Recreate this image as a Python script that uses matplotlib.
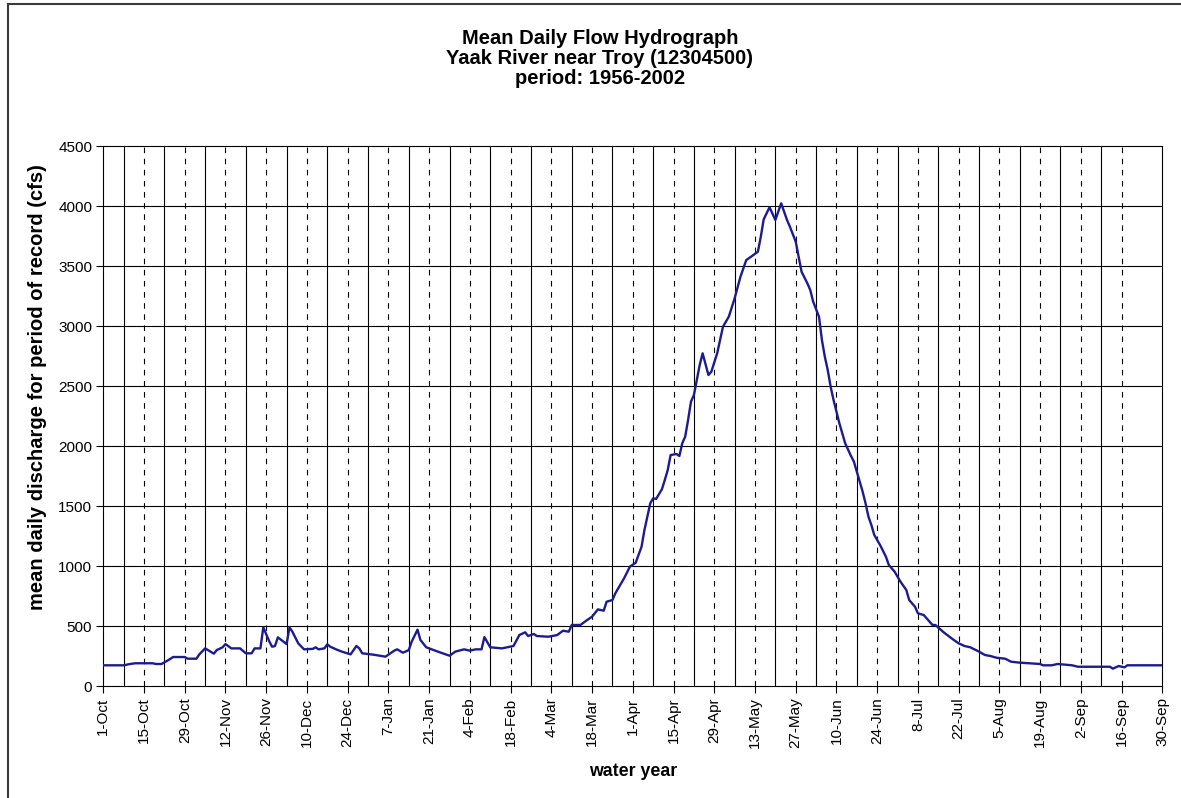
import matplotlib
matplotlib.use("Agg")
import matplotlib.pyplot as plt
from matplotlib.lines import Line2D

plt.rcParams['font.family'] = ['Liberation Sans', 'DejaVu Sans']

# day offset from 1-Oct (water year day) and mean daily discharge (cfs)
days = [0, 7, 9, 11, 17, 18, 20, 22, 24, 28, 29, 32, 33, 35, 38, 39, 41, 42, 44, 47,
        49, 51, 52, 54, 55, 57, 58, 59, 60, 63, 64, 65, 67, 69, 72, 73, 74, 76, 77, 78,
        80, 82, 85, 87, 88, 89, 93, 97, 100, 101, 103, 105, 106, 108, 109, 111, 115, 119, 121, 124,
        126, 128, 130, 131, 133, 137, 141, 143, 145, 146, 148, 149, 153, 156, 158, 160, 161, 164, 166, 168,
        170, 172, 173, 175, 176, 179, 181, 183, 185, 186, 187, 188, 189, 190, 192, 193, 194, 195, 197, 198,
        199, 200, 201, 202, 203, 205, 206, 208, 209, 211, 213, 215, 217, 219, 221, 223, 225, 226, 227, 228,
        229, 231, 233, 235, 236, 238, 239, 240, 242, 243, 244, 246, 247, 248, 249, 250, 251, 253, 254, 255,
        257, 258, 259, 261, 262, 263, 264, 265, 267, 269, 270, 272, 274, 276, 277, 279, 280, 282, 285, 286,
        289, 292, 294, 296, 298, 301, 303, 305, 307, 310, 312, 315, 322, 323, 326, 328, 333, 335, 346, 347,
        349, 351, 352, 364]
flow = [175, 175, 185, 192, 192, 186, 186, 213, 244, 244, 230, 230, 266, 316, 272, 302, 325, 352, 316, 316,
        275, 275, 316, 316, 491, 377, 330, 335, 408, 352, 491, 455, 358, 308, 312, 325, 308, 316, 350, 330,
        308, 289, 266, 336, 316, 275, 263, 247, 297, 308, 280, 302, 372, 472, 386, 325, 289, 255, 289, 308,
        297, 308, 308, 410, 325, 316, 336, 427, 450, 419, 436, 419, 413, 427, 463, 455, 511, 511, 547, 580,
        641, 630, 705, 719, 775, 900, 997, 1030, 1163, 1302, 1413, 1525, 1567, 1561, 1642, 1719, 1802, 1927, 1936, 1919,
        2025, 2080, 2219, 2372, 2427, 2678, 2775, 2594, 2622, 2775, 2997, 3080, 3233, 3413, 3552, 3586, 3622, 3747, 3892, 3942,
        3992, 3886, 4025, 3886, 3830, 3705, 3580, 3455, 3358, 3302, 3205, 3080, 2886, 2747, 2636, 2497, 2386, 2192, 2108, 2025,
        1919, 1872, 1788, 1622, 1525, 1413, 1344, 1261, 1177, 1080, 1011, 955, 872, 803, 719, 663, 608, 594, 511, 511,
        447, 392, 358, 336, 325, 289, 261, 252, 238, 230, 205, 197, 186, 175, 175, 186, 175, 163, 163, 147,
        169, 158, 175, 175]

tick_labels = ['1-Oct', '15-Oct', '29-Oct', '12-Nov', '26-Nov', '10-Dec', '24-Dec', '7-Jan',
               '21-Jan', '4-Feb', '18-Feb', '4-Mar', '18-Mar', '1-Apr', '15-Apr', '29-Apr',
               '13-May', '27-May', '10-Jun', '24-Jun', '8-Jul', '22-Jul', '5-Aug', '19-Aug',
               '2-Sep', '16-Sep', '30-Sep']
title_lines = ['Mean Daily Flow Hydrograph', 'Yaak River near Troy (12304500)', 'period: 1956-2002']

W, H = 1181, 798
fig = plt.figure(figsize=(W / 100, H / 100), dpi=100)
ax = fig.add_axes([103.3 / W, 1 - 686.3 / H, (1162.3 - 103.3) / W, (686.3 - 146.3) / H])

tick_pos = [14 * i for i in range(len(tick_labels))]
ax.set_xlim(0, 364)
ax.set_ylim(0, 4500)

# gridlines: horizontal solid, vertical dashed at labelled days, solid midway
for yv in range(500, 4500, 500):
    ax.axhline(yv, color='black', lw=0.8, zorder=1)
for xv in tick_pos[1:-1]:
    ax.axvline(xv, color='black', lw=0.8, linestyle=(0, (5, 5)), zorder=1)
for xv in tick_pos[:-2]:
    ax.axvline(xv + 7, color='black', lw=0.8, zorder=1)

ax.plot(days, flow, color='#1c1c8f', lw=1.7, zorder=3, solid_joinstyle='round')

ax.set_xticks(tick_pos)
ax.set_xticklabels(tick_labels, rotation=90, fontsize=11)
ax.set_yticks(range(0, 4501, 500))
ax.set_yticklabels([str(v) for v in range(0, 4501, 500)], fontsize=11)
ax.tick_params(direction='out', length=5, width=0.8, color='black', pad=3)
for s in ax.spines.values():
    s.set_color('black')
    s.set_linewidth(0.8)

ax.set_ylabel('mean daily discharge for period of record (cfs)', fontsize=14.5, fontweight='bold')
ax.yaxis.set_label_coords((38 - 103.3) / (1162.3 - 103.3), (686.3 - 387) / (686.3 - 146.3))
ax.set_xlabel('water year', fontsize=12.8, fontweight='bold')
ax.xaxis.set_label_coords(0.5, -(771 - 686.3) / (686.3 - 146.3))
ax.xaxis.label.set_va('center')
ax.yaxis.label.set_va('center')

title_y = [39, 58.5, 78]
for line, ty in zip(title_lines, title_y):
    fig.text(600 / W, 1 - ty / H, line, ha='center', va='center',
             fontsize=14.5, fontweight='bold')

# chart-area border (left and top visible)
fig.add_artist(Line2D([8 / W, 8 / W], [0, 1 - 4 / H], transform=fig.transFigure,
                      color='#3a3a3a', lw=1.5))
fig.add_artist(Line2D([8 / W, 1], [1 - 4 / H, 1 - 4 / H], transform=fig.transFigure,
                      color='#3a3a3a', lw=1.5))

fig.savefig('out.png', dpi=100)
